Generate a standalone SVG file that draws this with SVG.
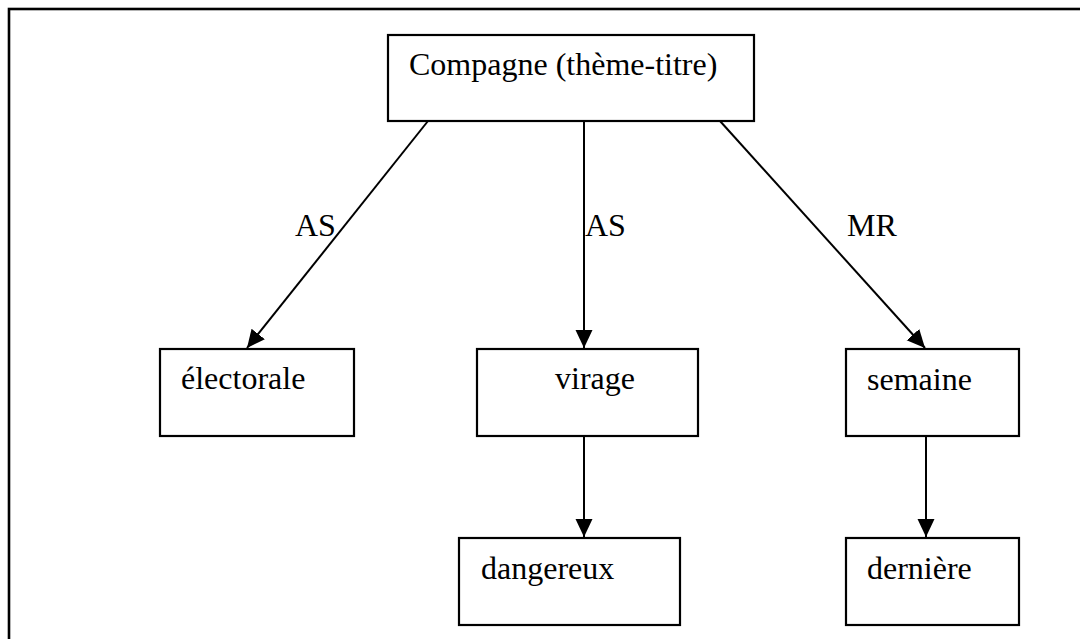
<svg xmlns="http://www.w3.org/2000/svg" width="1080" height="639" viewBox="0 0 1080 639">
<style>
.box{fill:#fff;stroke:#000;stroke-width:2.2}
.t{font-family:"Liberation Serif","Times New Roman",serif;font-size:32px;fill:#000}
.c{stroke:#000;stroke-width:2;fill:none;marker-end:url(#ah)}
</style>
<defs>
<marker id="ah" markerUnits="userSpaceOnUse" markerWidth="20" markerHeight="18" refX="18" refY="8.5" orient="auto">
<path d="M0,0 L18,8.5 L0,17 Z" fill="#000"/>
</marker>
</defs>
<rect width="1080" height="639" fill="#fff"/>
<rect x="9" y="9" width="1090" height="650" fill="none" stroke="#000" stroke-width="2.6"/>
<g id="connectors">
<line class="c" x1="428" y1="121" x2="247" y2="348"/>
<line class="c" x1="584" y1="121" x2="584" y2="348"/>
<line class="c" x1="720" y1="121" x2="925" y2="348"/>
<line class="c" x1="584" y1="436" x2="584" y2="537"/>
<line class="c" x1="926" y1="436" x2="926" y2="537"/>
<text class="t" x="295" y="236">AS</text>
<text class="t" x="585" y="236">AS</text>
<text class="t" x="847" y="236">MR</text>
</g>
<g id="n-top">
<rect class="box" x="388" y="35" width="366" height="86"/>
<text class="t" x="409" y="75">Compagne (thème-titre)</text>
</g>
<g id="n-electorale">
<rect class="box" x="160" y="349" width="194" height="87"/>
<text class="t" x="181" y="389">électorale</text>
</g>
<g id="n-virage">
<rect class="box" x="477" y="349" width="221" height="87"/>
<text class="t" x="555" y="389">virage</text>
</g>
<g id="n-semaine">
<rect class="box" x="846" y="349" width="173" height="87"/>
<text class="t" x="867" y="390">semaine</text>
</g>
<g id="n-dangereux">
<rect class="box" x="459" y="538" width="221" height="87"/>
<text class="t" x="481" y="579">dangereux</text>
</g>
<g id="n-derniere">
<rect class="box" x="846" y="538" width="173" height="87"/>
<text class="t" x="867" y="579">dernière</text>
</g>
</svg>
